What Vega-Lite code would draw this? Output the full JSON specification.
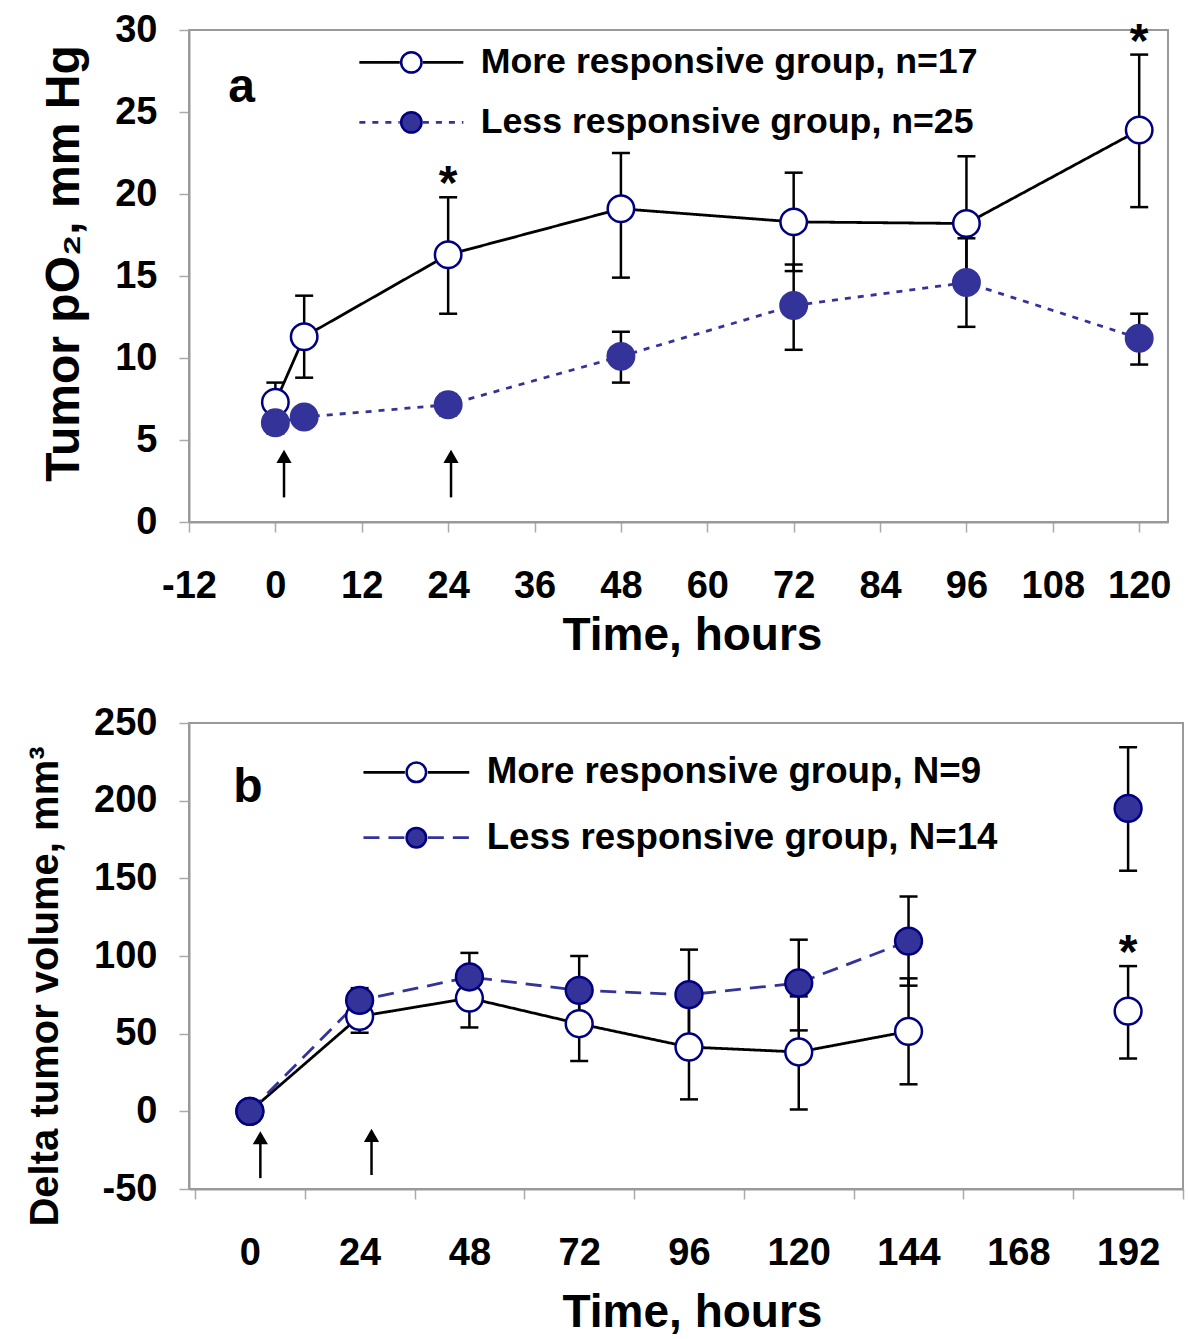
{
  "$schema": "https://vega.github.io/schema/vega-lite/v6.json",
  "background": "white",
  "padding": {"left": 24, "top": 10, "right": 4, "bottom": 10},
  "spacing": 201,
  "bounds": "flush",
  "resolve": {"scale": {"stroke": "independent", "fill": "independent", "strokeDash": "independent"}},
  "config": {
    "view": {"stroke": "#999999", "strokeWidth": 2},
    "axis": {"grid": false, "domainColor": "#999999", "domainWidth": 2, "tickColor": "#aaaaaa", "tickWidth": 1.5, "tickSize": 10,
      "labelFont": "Liberation Sans", "labelFontWeight": "bold", "labelFontSize": 38, "labelColor": "black",
      "titleFont": "Liberation Sans", "titleFontWeight": "bold", "titleColor": "black", "labelFlush": false, "labelOverlap": false},
    "legend": {"labelFont": "Liberation Sans", "labelFontWeight": "bold", "labelColor": "black", "labelLimit": 900, "padding": 0, "title": null},
    "text": {"font": "Liberation Sans", "fontWeight": "bold", "color": "black"}
  },
  "datasets": {
    "pa": [
      {"group": "More responsive group, n=17", "t": 0, "mean": 7.3, "lo": 6.2, "hi": 8.5, "sig": false},
      {"group": "More responsive group, n=17", "t": 4, "mean": 11.3, "lo": 8.8, "hi": 13.8, "sig": false},
      {"group": "More responsive group, n=17", "t": 24, "mean": 16.3, "lo": 12.7, "hi": 19.8, "sig": true},
      {"group": "More responsive group, n=17", "t": 48, "mean": 19.1, "lo": 14.9, "hi": 22.5, "sig": false},
      {"group": "More responsive group, n=17", "t": 72, "mean": 18.3, "lo": 15.3, "hi": 21.3, "sig": false},
      {"group": "More responsive group, n=17", "t": 96, "mean": 18.2, "lo": 14.1, "hi": 22.3, "sig": false},
      {"group": "More responsive group, n=17", "t": 120, "mean": 23.9, "lo": 19.2, "hi": 28.5, "sig": true},
      {"group": "Less responsive group, n=25", "t": 0, "mean": 6.05, "lo": 5.4, "hi": 6.7, "sig": false},
      {"group": "Less responsive group, n=25", "t": 4, "mean": 6.4, "lo": 5.8, "hi": 7.0, "sig": false},
      {"group": "Less responsive group, n=25", "t": 24, "mean": 7.15, "lo": 6.5, "hi": 7.8, "sig": false},
      {"group": "Less responsive group, n=25", "t": 48, "mean": 10.1, "lo": 8.5, "hi": 11.6, "sig": false},
      {"group": "Less responsive group, n=25", "t": 72, "mean": 13.2, "lo": 10.5, "hi": 15.7, "sig": false},
      {"group": "Less responsive group, n=25", "t": 96, "mean": 14.6, "lo": 11.9, "hi": 17.3, "sig": false},
      {"group": "Less responsive group, n=25", "t": 120, "mean": 11.2, "lo": 9.6, "hi": 12.7, "sig": false}
    ],
    "pb": [
      {"group": "More responsive group, N=9", "t": 0, "mean": 0, "lo": -3, "hi": 3, "sig": false},
      {"group": "More responsive group, N=9", "t": 24, "mean": 61.1, "lo": 50.6, "hi": 71.6, "sig": false},
      {"group": "More responsive group, N=9", "t": 48, "mean": 72.9, "lo": 54, "hi": 91.5, "sig": false},
      {"group": "More responsive group, N=9", "t": 72, "mean": 56.4, "lo": 32.4, "hi": 80.4, "sig": false},
      {"group": "More responsive group, N=9", "t": 96, "mean": 41.4, "lo": 7.7, "hi": 75.1, "sig": false},
      {"group": "More responsive group, N=9", "t": 120, "mean": 38.2, "lo": 1.2, "hi": 74.0, "sig": false},
      {"group": "More responsive group, N=9", "t": 144, "mean": 51.5, "lo": 17.4, "hi": 85.6, "sig": false},
      {"group": "More responsive group, N=9", "t": 192, "mean": 64.5, "lo": 34, "hi": 93.5, "sig": true},
      {"group": "Less responsive group, N=14", "t": 0, "mean": 0, "lo": -3, "hi": 3, "sig": false},
      {"group": "Less responsive group, N=14", "t": 24, "mean": 71.4, "lo": 63.5, "hi": 79.3, "sig": false},
      {"group": "Less responsive group, N=14", "t": 48, "mean": 86.5, "lo": 70.5, "hi": 102, "sig": false},
      {"group": "Less responsive group, N=14", "t": 72, "mean": 77.9, "lo": 55.8, "hi": 100, "sig": false},
      {"group": "Less responsive group, N=14", "t": 96, "mean": 75.1, "lo": 46, "hi": 104.1, "sig": false},
      {"group": "Less responsive group, N=14", "t": 120, "mean": 82.6, "lo": 52.1, "hi": 110.5, "sig": false},
      {"group": "Less responsive group, N=14", "t": 144, "mean": 109.6, "lo": 80.9, "hi": 138.3, "sig": false},
      {"group": "Less responsive group, N=14", "t": 192, "mean": 195, "lo": 154.9, "hi": 234.4, "sig": false}
    ],
    "arrows": [
      {"panel": "a", "t": 1.2, "y0": 1.5, "y1": 4.0},
      {"panel": "a", "t": 24.4, "y0": 1.5, "y1": 4.0},
      {"panel": "b", "t": 2.3, "y0": -43, "y1": -17},
      {"panel": "b", "t": 26.6, "y0": -41, "y1": -15.5}
    ],
    "letters": [
      {"panel": "a", "t": -4.7, "v": 25.6, "txt": "a"},
      {"panel": "b", "t": -0.4, "v": 199, "txt": "b"}
    ]
  },
  "vconcat": [
    {
      "width": 979,
      "height": 492,
      "data": {"name": "pa"},
      "layer": [
        {
          "mark": {"type": "rule", "color": "black", "strokeWidth": 2.5},
          "encoding": {
            "x": {"field": "t", "type": "quantitative", "scale": {"domain": [-12, 124], "nice": false, "zero": false},
              "axis": {"values": [-12, 0, 12, 24, 36, 48, 60, 72, 84, 96, 108, 120], "labelExpr": "datum.value < 0 ? '-' + abs(datum.value) : datum.label", "title": "Time, hours", "titleFontSize": 46, "labelPadding": 35, "titlePadding": 8, "titleX": 503}},
            "y": {"field": "lo", "type": "quantitative", "scale": {"domain": [0, 30], "nice": false, "zero": false},
              "axis": {"values": [0, 5, 10, 15, 20, 25, 30], "title": "Tumor pO₂, mm Hg", "titleFontSize": 48, "labelPadding": 22, "titlePadding": 26, "titleY": 233}},
            "y2": {"field": "hi"}
          }
        },
        {
          "mark": {"type": "tick", "orient": "horizontal", "size": 18, "thickness": 2.5, "color": "black", "opacity": 1},
          "encoding": {"x": {"field": "t", "type": "quantitative"}, "y": {"field": "lo", "type": "quantitative"}}
        },
        {
          "mark": {"type": "tick", "orient": "horizontal", "size": 18, "thickness": 2.5, "color": "black", "opacity": 1},
          "encoding": {"x": {"field": "t", "type": "quantitative"}, "y": {"field": "hi", "type": "quantitative"}}
        },
        {
          "mark": {"type": "line", "strokeWidth": 2.8},
          "encoding": {
            "x": {"field": "t", "type": "quantitative"},
            "y": {"field": "mean", "type": "quantitative"},
            "stroke": {"field": "group", "type": "nominal",
              "scale": {"domain": ["More responsive group, n=17", "Less responsive group, n=25"], "range": ["#000000", "#333399"]},
              "legend": {"orient": "none", "legendX": 164.5, "legendY": 14.5, "symbolType": "M-4.5,0L-1,0M1,0L4.5,0", "symbolSize": 534, "symbolStrokeWidth": 2.8, "symbolOffset": 40, "labelOffset": 51.5, "labelFontSize": 35.7, "rowPadding": 23}},
            "strokeDash": {"field": "group", "type": "nominal",
              "scale": {"domain": ["More responsive group, n=17", "Less responsive group, n=25"], "range": [[1, 0], [6, 7]]},
              "legend": {"orient": "none", "legendX": 164.5, "legendY": 14.5, "symbolType": "M-4.5,0L-1,0M1,0L4.5,0", "symbolSize": 534, "symbolStrokeWidth": 2.8, "symbolOffset": 40, "labelOffset": 51.5, "labelFontSize": 35.7, "rowPadding": 23}}
          }
        },
        {
          "mark": {"type": "point", "filled": true, "size": 700, "strokeWidth": 2.5, "opacity": 1},
          "encoding": {
            "x": {"field": "t", "type": "quantitative"},
            "y": {"field": "mean", "type": "quantitative"},
            "fill": {"field": "group", "type": "nominal", "sort": ["More responsive group, n=17", "Less responsive group, n=25"],
              "scale": {"range": ["#ffffff", "#333399"]},
              "legend": {"orient": "none", "legendX": 164.5, "legendY": 14.5, "symbolType": "circle", "symbolSize": 415, "symbolStrokeColor": "#000080", "symbolStrokeWidth": 2.5, "symbolOffset": 40, "labelOffset": 51.5, "labelFontSize": 35.7, "labelOpacity": 0, "rowPadding": 23}},
            "stroke": {"condition": {"test": "indexof(datum.group, 'More') === 0", "value": "#000080"}, "value": "#333399"}
          }
        },
        {
          "transform": [{"filter": "datum.sig"}],
          "mark": {"type": "text", "text": "*", "fontSize": 48, "baseline": "alphabetic", "align": "center", "dy": 2},
          "encoding": {"x": {"field": "t", "type": "quantitative"}, "y": {"field": "hi", "type": "quantitative"}}
        },
        {
          "data": {"name": "arrows"},
          "transform": [{"filter": "datum.panel === 'a'"}],
          "mark": {"type": "rule", "color": "black", "strokeWidth": 2.5},
          "encoding": {"x": {"field": "t", "type": "quantitative"}, "y": {"field": "y0", "type": "quantitative"}, "y2": {"field": "y1"}}
        },
        {
          "data": {"name": "arrows"},
          "transform": [{"filter": "datum.panel === 'a'"}],
          "mark": {"type": "point", "shape": "triangle-up", "filled": true, "size": 230, "color": "black", "opacity": 1},
          "encoding": {"x": {"field": "t", "type": "quantitative"}, "y": {"field": "y1", "type": "quantitative"}}
        },
        {
          "data": {"name": "letters"},
          "transform": [{"filter": "datum.panel === 'a'"}],
          "mark": {"type": "text", "fontSize": 48, "baseline": "alphabetic", "align": "center"},
          "encoding": {"x": {"field": "t", "type": "quantitative"}, "y": {"field": "v", "type": "quantitative"}, "text": {"field": "txt"}}
        }
      ]
    },
    {
      "width": 994,
      "height": 466,
      "data": {"name": "pb"},
      "layer": [
        {
          "mark": {"type": "rule", "color": "black", "strokeWidth": 2.5},
          "encoding": {
            "x": {"field": "t", "type": "quantitative", "scale": {"domain": [-13.3, 204], "nice": false, "zero": false},
              "axis": {"values": [-12, 12, 36, 60, 84, 108, 132, 156, 180, 204], "labelExpr": "datum.value < 200 ? format(datum.value + 12, 'd') : ''", "labelOffset": 54.9, "title": "Time, hours", "titleFontSize": 46, "labelPadding": 35, "titlePadding": 18, "titleX": 503}},
            "y": {"field": "lo", "type": "quantitative", "scale": {"domain": [-50, 250], "nice": false, "zero": false},
              "axis": {"values": [-50, 0, 50, 100, 150, 200, 250], "labelExpr": "datum.value < 0 ? '-' + abs(datum.value) : datum.label", "title": "Delta tumor volume, mm³", "titleFontSize": 40, "labelPadding": 22, "titlePadding": 28, "titleY": 263}},
            "y2": {"field": "hi"}
          }
        },
        {
          "mark": {"type": "tick", "orient": "horizontal", "size": 18, "thickness": 2.5, "color": "black", "opacity": 1},
          "encoding": {"x": {"field": "t", "type": "quantitative"}, "y": {"field": "lo", "type": "quantitative"}}
        },
        {
          "mark": {"type": "tick", "orient": "horizontal", "size": 18, "thickness": 2.5, "color": "black", "opacity": 1},
          "encoding": {"x": {"field": "t", "type": "quantitative"}, "y": {"field": "hi", "type": "quantitative"}}
        },
        {
          "transform": [{"filter": "datum.t < 190"}],
          "mark": {"type": "line", "strokeWidth": 2.8},
          "encoding": {
            "x": {"field": "t", "type": "quantitative"},
            "y": {"field": "mean", "type": "quantitative"},
            "stroke": {"field": "group", "type": "nominal",
              "scale": {"domain": ["More responsive group, N=9", "Less responsive group, N=14"], "range": ["#000000", "#333399"]},
              "legend": {"orient": "none", "legendX": 169, "legendY": 31, "symbolType": "M-4.6,0L-1,0M1,0L4.6,0", "symbolSize": 529, "symbolStrokeWidth": 2.8, "symbolOffset": 40, "labelOffset": 52, "labelFontSize": 36.7, "rowPadding": 27.3}},
            "strokeDash": {"field": "group", "type": "nominal",
              "scale": {"domain": ["More responsive group, N=9", "Less responsive group, N=14"], "range": [[1, 0], [16, 9]]},
              "legend": {"orient": "none", "legendX": 169, "legendY": 31, "symbolType": "M-4.6,0L-1,0M1,0L4.6,0", "symbolSize": 529, "symbolStrokeWidth": 2.8, "symbolOffset": 40, "labelOffset": 52, "labelFontSize": 36.7, "rowPadding": 27.3}}
          }
        },
        {
          "mark": {"type": "point", "filled": true, "size": 720, "strokeWidth": 2.5, "opacity": 1, "stroke": "#000080"},
          "encoding": {
            "x": {"field": "t", "type": "quantitative"},
            "y": {"field": "mean", "type": "quantitative"},
            "fill": {"field": "group", "type": "nominal", "sort": ["More responsive group, N=9", "Less responsive group, N=14"],
              "scale": {"range": ["#ffffff", "#333399"]},
              "legend": {"orient": "none", "legendX": 169, "legendY": 31, "symbolType": "circle", "symbolSize": 380, "symbolStrokeColor": "#000080", "symbolStrokeWidth": 2.5, "symbolOffset": 40, "labelOffset": 52, "labelFontSize": 36.7, "labelOpacity": 0, "rowPadding": 27.3}}
          }
        },
        {
          "transform": [{"filter": "datum.sig"}],
          "mark": {"type": "text", "text": "*", "fontSize": 48, "baseline": "alphabetic", "align": "center", "dy": 2},
          "encoding": {"x": {"field": "t", "type": "quantitative"}, "y": {"field": "hi", "type": "quantitative"}}
        },
        {
          "data": {"name": "arrows"},
          "transform": [{"filter": "datum.panel === 'b'"}],
          "mark": {"type": "rule", "color": "black", "strokeWidth": 2.5},
          "encoding": {"x": {"field": "t", "type": "quantitative"}, "y": {"field": "y0", "type": "quantitative"}, "y2": {"field": "y1"}}
        },
        {
          "data": {"name": "arrows"},
          "transform": [{"filter": "datum.panel === 'b'"}],
          "mark": {"type": "point", "shape": "triangle-up", "filled": true, "size": 230, "color": "black", "opacity": 1},
          "encoding": {"x": {"field": "t", "type": "quantitative"}, "y": {"field": "y1", "type": "quantitative"}}
        },
        {
          "data": {"name": "letters"},
          "transform": [{"filter": "datum.panel === 'b'"}],
          "mark": {"type": "text", "fontSize": 48, "baseline": "alphabetic", "align": "center"},
          "encoding": {"x": {"field": "t", "type": "quantitative"}, "y": {"field": "v", "type": "quantitative"}, "text": {"field": "txt"}}
        }
      ]
    }
  ]
}
